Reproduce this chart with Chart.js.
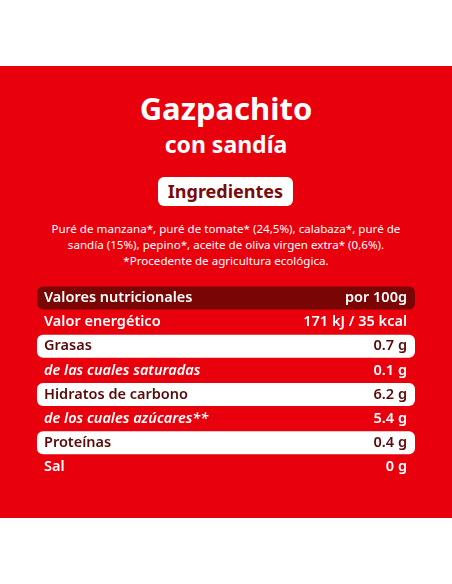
<!DOCTYPE html><html><head><meta charset="utf-8">
<script src="https://cdn.jsdelivr.net/npm/chart.js@4"></script>
<style>
body{margin:0;width:452px;height:584px;background:#fff;font-family:"Noto Sans",sans-serif;position:relative;overflow:hidden}
#red{position:absolute;left:0;top:66px;width:452px;height:452px;background:#e8000d}
.t{position:absolute;width:452px;text-align:center;color:#fff;font-weight:700}
#ing{position:absolute;left:158px;top:177px;width:135px;height:29px;background:#fff;border-radius:6px;color:#7a0a0a;font-weight:700;font-size:18px;text-align:center;line-height:29px}
#txt{position:absolute;left:20px;width:412px;top:221px;text-align:center;color:#fff;font-size:11.6px;line-height:16px}
#wrap{position:absolute;left:37px;top:286px;width:378px;height:193px}
</style></head><body>
<div id="red"></div>
<div class="t" style="top:88px;font-size:31px;line-height:40px">Gazpachito</div>
<div class="t" style="top:128px;font-size:23px;line-height:32px">con sandía</div>
<div id="ing">Ingredientes</div>
<div id="txt">Puré de manzana*, puré de tomate* (24,5%), calabaza*, puré de<br>sandía (15%), pepino*, aceite de oliva virgen extra* (0,6%).<br>*Procedente de agricultura ecológica.</div>
<div id="wrap"><canvas id="c"></canvas></div>
<script>
const rowLabels=["Valores nutricionales","Valor energético","Grasas","de las cuales saturadas","Hidratos de carbono","de los cuales azúcares**","Proteínas","Sal"];
const rowValues=["por 100g","171 kJ / 35 kcal","0.7 g","0.1 g","6.2 g","5.4 g","0.4 g","0 g"];
const rowKinds=["header","plain","box","italic","box","italic","box","plain"];
const bg={header:"#7a0505",box:"#ffffff",plain:"rgba(0,0,0,0)",italic:"rgba(0,0,0,0)"};
const fg={header:"#ffffff",box:"#5a0a0a",plain:"#ffffff",italic:"#ffffff"};
const textPlugin={id:"txt",afterDatasetsDraw(ch){
 const ctx=ch.ctx,meta=ch.getDatasetMeta(0),xs=ch.scales.x;
 meta.data.forEach((b,i)=>{
  const k=rowKinds[i];ctx.save();ctx.fillStyle=fg[k];ctx.textBaseline="middle";
  ctx.font=(k==="italic"?"italic ":"")+"600 14.5px 'Noto Sans'";
  ctx.textAlign="left";ctx.fillText(rowLabels[i],xs.left+7,b.y);
  ctx.font="600 14.5px 'Noto Sans'";ctx.textAlign="right";ctx.fillText(rowValues[i],xs.right-8,b.y);
  ctx.restore();});
}};
new Chart(document.getElementById("c"),{type:"bar",
 data:{labels:rowLabels,datasets:[{data:rowLabels.map(()=>1),backgroundColor:rowKinds.map(k=>bg[k]),borderRadius:6,borderSkipped:false,barPercentage:0.95,categoryPercentage:1}]},
 options:{indexAxis:"y",responsive:true,maintainAspectRatio:false,animation:false,layout:{padding:0},
  scales:{x:{display:false,min:0,max:1},y:{display:false}},
  plugins:{legend:{display:false},tooltip:{enabled:false}}},
 plugins:[textPlugin]});
</script></body></html>
